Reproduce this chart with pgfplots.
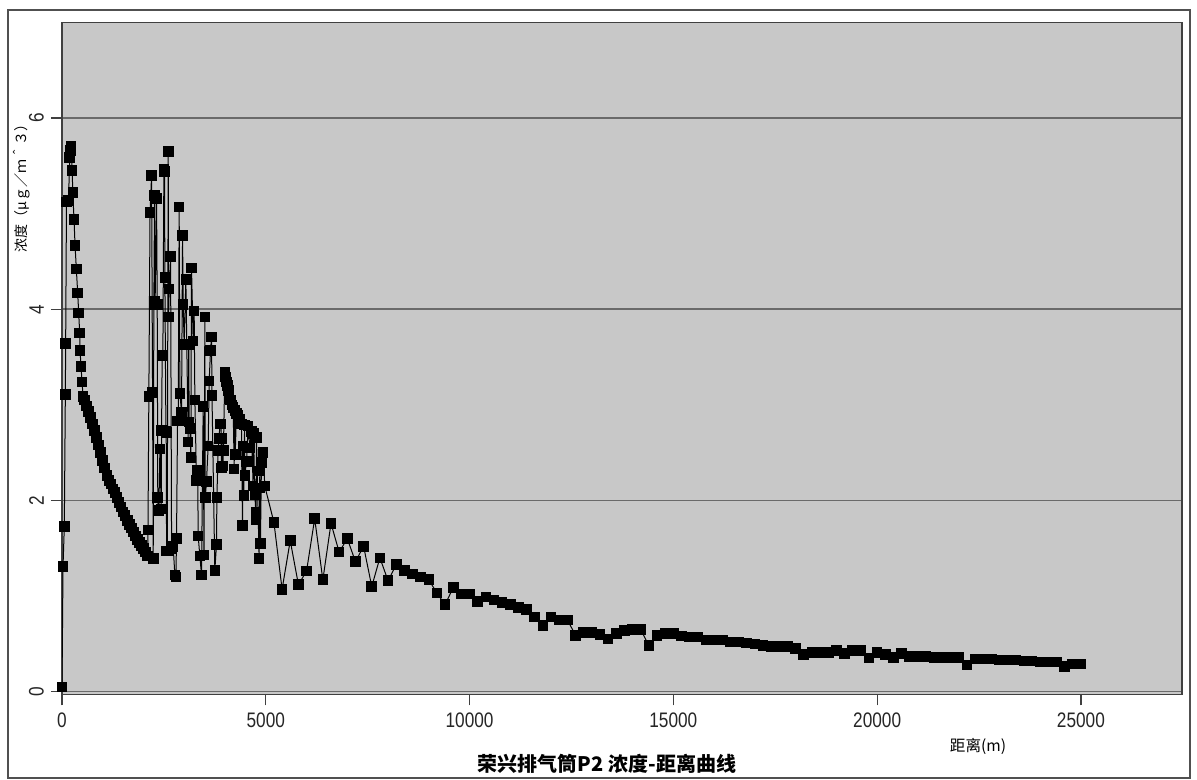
\documentclass[border=0pt]{standalone}
\usepackage{fontspec}
\usepackage{pgfplots}
\usepackage{pgfplotstable}
\pgfplotsset{compat=1.18}
\setmainfont{Liberation Sans}
\newfontfamily\narrow[FakeStretch=0.82]{Liberation Sans}
\newfontfamily\cjk{Noto Sans CJK SC}
\definecolor{bg}{HTML}{C8C8C8}
\definecolor{gridc}{HTML}{6A6A6A}
\definecolor{framec}{HTML}{505050}

\pgfplotstableread{
x y
0 0.05
25 1.31
57 1.73
82 3.11
90 3.64
110 5.12
160 5.14
190 5.59
210 5.66
225 5.70
250 5.45
265 5.22
295 4.94
320 4.67
352 4.42
385 4.17
410 3.96
434 3.75
443 3.57
467 3.40
492 3.24
516 3.09
550 3.05
600 2.99
650 2.93
700 2.87
750 2.80
800 2.73
850 2.66
900 2.58
950 2.50
1000 2.42
1050 2.34
1100 2.26
1150 2.21
1200 2.17
1250 2.12
1300 2.08
1350 2.03
1400 1.98
1450 1.93
1500 1.88
1550 1.84
1600 1.79
1650 1.75
1700 1.71
1750 1.67
1800 1.63
1850 1.59
1900 1.56
1950 1.53
2000 1.50
2050 1.46
2100 1.42
2110 1.69
2131 3.09
2160 5.01
2198 5.40
2222 3.13
2238 1.39
2254 4.05
2270 5.19
2285 4.08
2320 5.16
2336 4.05
2350 2.03
2361 1.90
2377 1.89
2402 2.54
2434 1.91
2443 2.73
2458 3.52
2475 3.51
2500 5.46
2516 5.44
2524 4.33
2550 2.72
2557 2.71
2566 1.47
2582 1.47
2606 5.65
2614 3.92
2630 4.21
2664 4.55
2689 1.49
2728 1.52
2769 1.22
2795 1.20
2810 1.60
2835 2.83
2852 2.83
2875 5.07
2892 3.12
2933 2.92
2958 4.77
2973 4.05
2998 3.63
3039 4.31
3096 2.61
3110 3.63
3120 2.82
3137 2.75
3162 2.45
3178 4.43
3218 3.67
3243 3.98
3260 3.05
3300 2.21
3330 2.32
3341 1.63
3382 1.42
3423 1.22
3464 2.98
3484 1.43
3505 3.92
3515 2.03
3546 2.20
3586 2.57
3611 3.25
3644 3.57
3669 3.71
3680 3.10
3750 1.27
3791 1.54
3800 2.03
3831 2.52
3856 2.65
3873 2.80
3900 2.80
3913 2.34
3920 2.65
3938 2.52
3945 2.36
3960 2.52
3995 3.34
4016 3.29
4037 3.24
4057 3.20
4078 3.15
4100 3.10
4135 3.05
4170 3.00
4200 2.97
4224 2.33
4240 2.94
4250 2.48
4280 2.91
4322 2.89
4360 2.85
4404 2.80
4428 1.74
4445 2.57
4461 2.05
4480 2.79
4486 2.26
4527 2.41
4567 2.78
4608 2.55
4650 2.72
4690 2.15
4700 2.70
4731 2.06
4755 1.88
4760 1.80
4772 2.66
4837 1.39
4853 2.31
4860 2.13
4869 1.55
4894 2.40
4935 2.50
4976 2.15
5200 1.77
5400 1.07
5600 1.58
5800 1.12
6000 1.26
6200 1.81
6400 1.17
6600 1.76
6800 1.46
7000 1.60
7200 1.36
7400 1.52
7600 1.10
7800 1.40
8000 1.16
8200 1.33
8400 1.27
8600 1.23
8800 1.20
9000 1.17
9200 1.03
9400 0.91
9600 1.09
9800 1.02
10000 1.02
10200 0.94
10400 0.99
10600 0.96
10800 0.93
11000 0.91
11200 0.88
11400 0.86
11600 0.78
11800 0.69
12000 0.78
12200 0.75
12400 0.75
12600 0.59
12800 0.62
13000 0.62
13200 0.60
13400 0.55
13600 0.61
13800 0.64
14000 0.65
14200 0.65
14400 0.48
14600 0.59
14800 0.61
15000 0.61
15200 0.58
15400 0.57
15600 0.57
15800 0.54
16000 0.54
16200 0.54
16400 0.52
16600 0.52
16800 0.51
17000 0.50
17200 0.48
17400 0.47
17600 0.47
17800 0.47
18000 0.45
18200 0.39
18400 0.41
18600 0.41
18800 0.41
19000 0.43
19200 0.40
19400 0.43
19600 0.43
19800 0.35
20000 0.41
20200 0.39
20400 0.36
20600 0.40
20800 0.37
21000 0.37
21200 0.37
21400 0.36
21600 0.36
21800 0.36
22000 0.36
22200 0.28
22400 0.34
22600 0.34
22800 0.34
23000 0.33
23200 0.33
23400 0.33
23600 0.32
23800 0.32
24000 0.31
24200 0.31
24400 0.31
24600 0.26
24800 0.29
25000 0.29
}\conc

\begin{document}
\begin{tikzpicture}
\useasboundingbox (0,0) rectangle (598.5pt,390pt);
\fill[white] (0,0) rectangle (598.5pt,390pt);
\draw[framec, line width=1pt] (4pt,1pt) rectangle (595pt,385pt);
\begin{axis}[
  at={(31pt,42.75pt)}, anchor=south west,
  scale only axis, width=560pt, height=336pt,
  xmin=0, xmax=27480, ymin=-0.03, ymax=7.0,
  axis background/.style={fill=bg},
  axis line style={draw=black!75, line width=0.6pt},
  xtick={0,5000,10000,15000,20000,25000},
  ytick={0,2,4,6},
  tick pos=left,
  tick align=outside,
  major tick length=5.5pt,
  tick style={draw=black!75, line width=0.6pt},
  ymajorgrids,
  grid style={draw=gridc, line width=0.8pt},
  scaled x ticks=false,
  /pgf/number format/1000 sep={},
  /pgf/number format/assume math mode=true,
  ticklabel style={font=\narrow\fontsize{10.5}{12}\selectfont, text=black!85},
  yticklabel style={rotate=90, anchor=south},
]
\addplot[black, line width=0.5pt, mark=square*, mark size=2.4pt,
  mark options={fill=black, draw=black, solid}] table[x=x, y=y] {\conc};
\end{axis}
\node[font=\cjk\bfseries\fontsize{10}{11}\selectfont] at (303.5pt,8pt) {荣兴排气筒P2 浓度-距离曲线};
\node[font=\cjk\fontsize{7.8}{9}\selectfont] at (489pt,17pt) {距离(m)};
\node[font=\cjk\fontsize{7}{8}\selectfont, rotate=90] at (11pt,297.5pt) {浓度（μｇ／ｍ＾３）};
\end{tikzpicture}
\end{document}
